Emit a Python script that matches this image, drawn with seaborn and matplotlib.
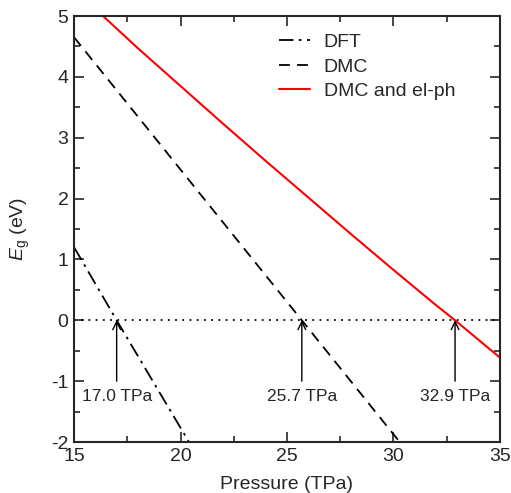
import numpy as np
import pandas as pd
import matplotlib
matplotlib.use('Agg')
import matplotlib.pyplot as plt
import seaborn as sns

# band gap vs pressure
dft_p = [15.0, 17.0, 20.5]
dft_eg = [1.2, 0.0, -2.06]
dmc_p = [15.0, 25.7, 30.3]
dmc_eg = [4.65, 0.0, -2.0]
elph_p = [16.36, 18, 20, 22, 24, 26, 28, 30, 32, 32.9, 34, 35]
elph_eg = [5.0, 4.47, 3.85, 3.23, 2.62, 2.02, 1.42, 0.83, 0.25, 0.0, -0.32, -0.61]

closure_p = [17.0, 25.7, 32.9]
closure_labels = ['17.0 TPa', '25.7 TPa', '32.9 TPa']

sns.set_style('ticks')
plt.rcParams['font.family'] = ['Liberation Sans', 'DejaVu Sans']
plt.rcParams['mathtext.fontset'] = 'custom'
plt.rcParams['mathtext.rm'] = 'Liberation Sans'
plt.rcParams['mathtext.it'] = 'Liberation Sans:italic'
plt.rcParams['axes.unicode_minus'] = False

fig = plt.figure(figsize=(5.11, 4.93), dpi=100)
ax = fig.add_axes([0.145, 0.1034, 0.833, 0.8641])

dft = pd.DataFrame({'p': dft_p, 'eg': dft_eg})
dmc = pd.DataFrame({'p': dmc_p, 'eg': dmc_eg})
elph = pd.DataFrame({'p': elph_p, 'eg': elph_eg})

sns.lineplot(data=dft, x='p', y='eg', ax=ax, color='black', lw=1.3,
             label='DFT', sort=False)
ax.lines[-1].set_dashes([8, 3, 1.5, 3])
sns.lineplot(data=dmc, x='p', y='eg', ax=ax, color='black', lw=1.3,
             label='DMC', sort=False)
ax.lines[-1].set_dashes([6, 4])
sns.lineplot(data=elph, x='p', y='eg', ax=ax, color='red', lw=1.5,
             label='DMC and el-ph', sort=False)

ax.axhline(0, color='black', lw=1.3, ls=(0, (1, 3)), zorder=1)

for p, lab in zip(closure_p, closure_labels):
    ax.annotate('', xy=(p, 0), xytext=(p, -1.0),
                arrowprops=dict(arrowstyle='->', color='black', lw=1.0,
                                mutation_scale=14, shrinkA=0, shrinkB=0))
    ax.text(p, -1.26, lab, ha='center', va='center', fontsize=12.5)

ax.set_xlim(15, 35)
ax.set_ylim(-2, 5)
ax.set_xticks([15, 20, 25, 30, 35])
ax.set_xticks(np.arange(15, 35.1, 2.5), minor=True)
ax.set_yticks(range(-2, 6))
ax.set_yticks(np.arange(-2, 5.1, 0.5), minor=True)
ax.tick_params(which='both', direction='in', top=True, right=True,
               labelsize=14, width=1.2, pad=4)
ax.tick_params(which='major', length=7)
ax.tick_params(which='minor', length=4)
for s in ax.spines.values():
    s.set_linewidth(1.5)

ax.set_xlabel('Pressure (TPa)', fontsize=14, labelpad=8)
ax.set_ylabel(r'$E_\mathrm{g}$ (eV)', fontsize=14, labelpad=14)

ax.legend(loc='upper left', bbox_to_anchor=(0.44, 1.0), frameon=False,
          fontsize=14, handlelength=1.6, labelspacing=0.35, handletextpad=0.7)

fig.savefig('out.png', dpi=100)
